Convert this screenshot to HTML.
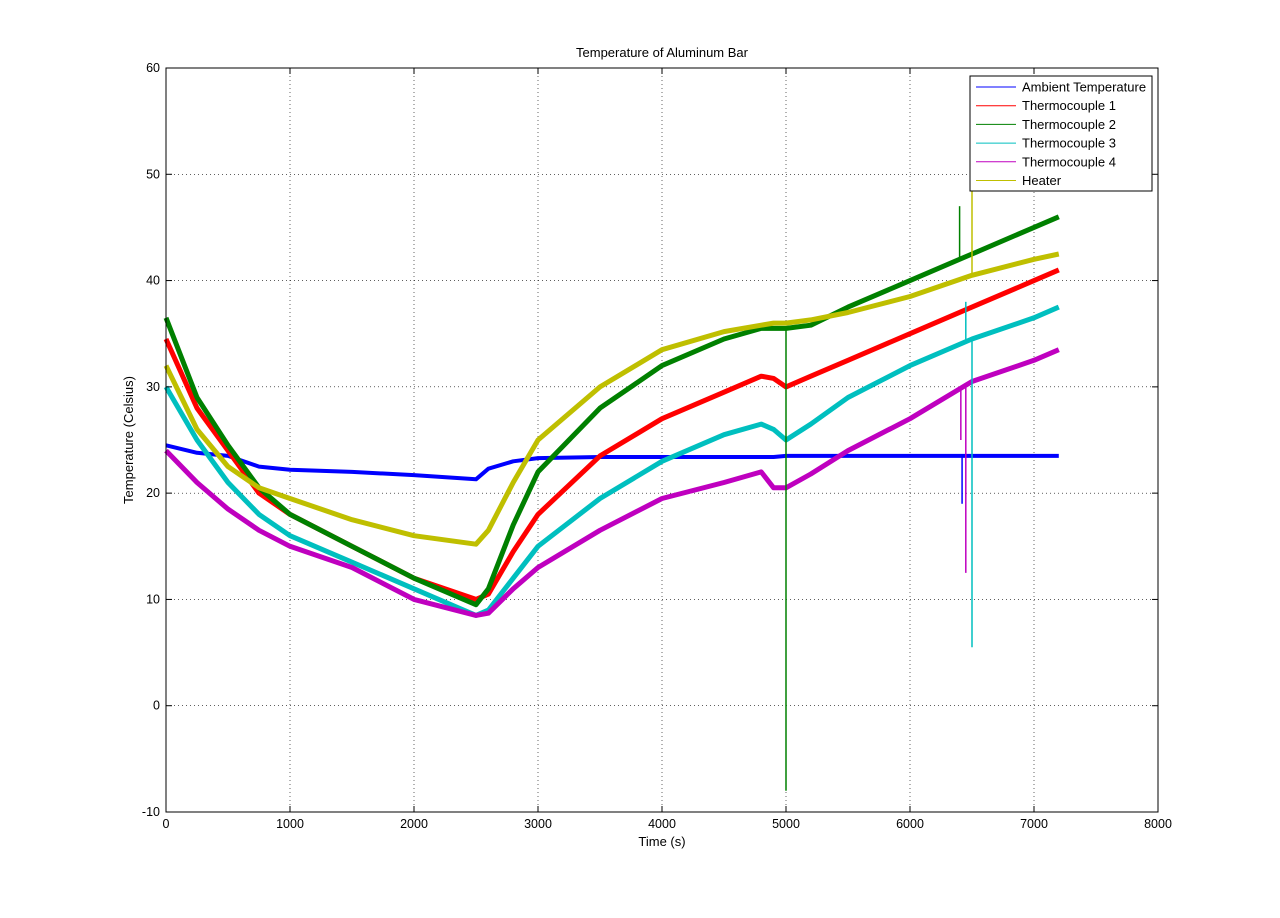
<!DOCTYPE html>
<html><head><meta charset="utf-8"><style>
body{margin:0;background:#fff;}
svg text{font-family:"Liberation Sans",sans-serif;font-size:13px;fill:#000;}
svg text.tick{font-size:12.5px;}
</style></head><body>
<svg id="chart" width="1280" height="913">
<rect width="1280" height="913" fill="#fff"/>
<g id="grid"></g><g id="series"></g><g id="axes"></g>
<text x="662" y="57" text-anchor="middle">Temperature of Aluminum Bar</text>
<text x="662" y="846" text-anchor="middle">Time (s)</text>
<text transform="translate(133,440) rotate(-90)" text-anchor="middle">Temperature (Celsius)</text>
<g id="legend"></g>
</svg>
<script>
const xTicks=[0,1000,2000,3000,4000,5000,6000,7000,8000];
const yTicks=[-10,0,10,20,30,40,50,60];
const seriesNames=["Ambient Temperature","Thermocouple 1","Thermocouple 2","Thermocouple 3","Thermocouple 4","Heater"];
const seriesColors=["#0000ff","#ff0000","#008000","#00bfbf","#bf00bf","#bfbf00"];
const times=[0,250,500,750,1000,1500,2000,2500,2600,2800,3000,3500,4000,4500,4800,4900,5000,5200,5500,6000,6500,7000,7200];
const ambient=[24.5,23.8,23.5,22.5,22.2,22,21.7,21.3,22.3,23,23.3,23.4,23.4,23.4,23.4,23.4,23.5,23.5,23.5,23.5,23.5,23.5,23.5];
const tc1=[34.5,28,24,20,18,15,12,10,10.5,14.5,18,23.5,27,29.5,31,30.8,30,31,32.5,35,37.5,40,41];
const tc2=[36.5,29,24.5,20.5,18,15,12,9.5,11,17,22,28,32,34.5,35.5,35.5,35.5,35.8,37.5,40,42.5,45,46];
const tc3=[30,25,21,18,16,13.5,11,8.5,9,12,15,19.5,23,25.5,26.5,26,25,26.5,29,32,34.5,36.5,37.5];
const tc4=[24,21,18.5,16.5,15,13,10,8.5,8.7,11,13,16.5,19.5,21,22,20.5,20.5,21.8,24,27,30.5,32.5,33.5];
const heater=[32,26,22.5,20.5,19.5,17.5,16,15.2,16.5,21,25,30,33.5,35.2,35.8,36,36,36.3,37,38.5,40.5,42,42.5];
const spikeValues=[[5000,2,-8],[6400,2,47],[6450,3,38],[6500,3,5.5],[6500,5,48.5],[6410,4,25],[6450,4,12.5],[6420,0,19]];
const allSeries=[ambient,tc1,tc2,tc3,tc4,heater];
const X0=166,X1=1158,Y0=812,Y1=68;
const sx=v=>X0+(v-0)/8000*(X1-X0);
const sy=v=>Y0-(v+10)/70*(Y0-Y1);
const NS="http://www.w3.org/2000/svg";
function mk(t,a,p){const e=document.createElementNS(NS,t);for(const k in a)e.setAttribute(k,a[k]);p.appendChild(e);return e;}
const grid=document.getElementById('grid'),axes=document.getElementById('axes'),ser=document.getElementById('series'),leg=document.getElementById('legend');
xTicks.forEach(t=>{const x=sx(t);
 if(t>0&&t<8000){const g=mk('line',{x1:x,x2:x,y1:Y1,y2:Y0,stroke:'#000','stroke-width':0.6,'stroke-dasharray':'1,3'},grid);
 }
 const l=mk('text',{x:x,y:Y0+16,'text-anchor':'middle','class':'tick'},axes);l.textContent=t;
 
 mk('line',{x1:x,x2:x,y1:Y0,y2:Y0-6,stroke:'#000'},axes);mk('line',{x1:x,x2:x,y1:Y1,y2:Y1+6,stroke:'#000'},axes);});
yTicks.forEach(t=>{const y=sy(t);
 if(t>-10&&t<60){const g=mk('line',{x1:X0,x2:X1,y1:y,y2:y,stroke:'#000','stroke-width':0.6,'stroke-dasharray':'1,3'},grid);
 }
 const l=mk('text',{x:X0-6,y:y+4,'text-anchor':'end','class':'tick'},axes);l.textContent=t;
 
 mk('line',{x1:X0,x2:X0+6,y1:y,y2:y,stroke:'#000'},axes);mk('line',{x1:X1,x2:X1-6,y1:y,y2:y,stroke:'#000'},axes);});
const fr=mk('rect',{x:X0,y:Y1,width:X1-X0,height:Y0-Y1,fill:'none',stroke:'#000'},axes);

allSeries.forEach((s,i)=>{const d=s.map((v,j)=>(j?'L':'M')+sx(times[j]).toFixed(1)+','+sy(v).toFixed(1)).join('');
 const p=mk('path',{d:d,fill:'none',stroke:seriesColors[i],'stroke-width':i==0?4:5,'stroke-linejoin':'round'},ser);
 
 });
spikeValues.forEach(s=>{const i=s[1],base=allSeries[i];let k=0;while(k<times.length-1&&times[k+1]<s[0])k++;
 const f=(s[0]-times[k])/(times[k+1]-times[k]);const bv=base[k]+f*(base[k+1]-base[k]);
 const l=mk('line',{x1:sx(s[0]),x2:sx(s[0]),y1:sy(bv),y2:sy(s[2]),stroke:seriesColors[i],'stroke-width':1.5},ser);
 });
const lb=mk('rect',{x:970,y:76,width:182,height:115,fill:'#fff',stroke:'#000'},leg);

seriesNames.forEach((n,i)=>{const y=87+i*18.7;
 const ln=mk('line',{x1:976,x2:1016,y1:y,y2:y,stroke:seriesColors[i]},leg);
 
 const t=mk('text',{x:1022,y:y+4.5},leg);t.textContent=n;
 });
</script>
</body></html>
